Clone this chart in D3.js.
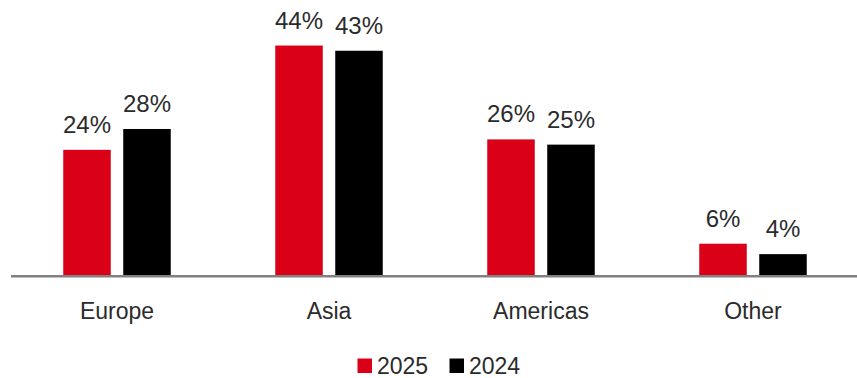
<!DOCTYPE html>
<html>
<head>
<meta charset="utf-8">
<script src="https://cdn.jsdelivr.net/npm/d3@7"></script>
<style>
  html, body { margin: 0; padding: 0; background: #fff; }
  svg { display: block; }
  text { font-family: "Liberation Sans", Arial, sans-serif; fill: #2b2b2b; }
</style>
</head>
<body>
<svg id="chart" width="857" height="378"></svg>
<script>
// Regional share of revenue, by year (%)
const categories = ["Europe", "Asia", "Americas", "Other"];
const seriesNames = ["2025", "2024"];
const values2025 = [24, 44, 26, 6];
const values2024 = [28, 43, 25, 4];
const seriesColors = ["#DA0017", "#000000"];

const data = categories.map((c, i) => ({
  category: c,
  values: [
    { key: seriesNames[0], value: values2025[i] },
    { key: seriesNames[1], value: values2024[i] }
  ]
}));

const svg = d3.select("#chart");
const baseY = 275;

const x0 = d3.scaleBand()
  .domain(categories)
  .range([11, 859])
  .paddingInner(0)
  .paddingOuter(0);

const x1 = d3.scaleBand()
  .domain(seriesNames)
  .range([0, x0.bandwidth()])
  .paddingInner(0.208)
  .paddingOuter(0.871);

const y = d3.scaleLinear()
  .domain([0, 50])
  .range([baseY, baseY - 5.215 * 50]);

const color = d3.scaleOrdinal().domain(seriesNames).range(seriesColors);

const groups = svg.append("g")
  .selectAll("g")
  .data(data)
  .join("g")
  .attr("transform", d => `translate(${x0(d.category)},0)`);

groups.selectAll("rect")
  .data(d => d.values)
  .join("rect")
  .attr("x", d => x1(d.key))
  .attr("y", d => y(d.value))
  .attr("width", x1.bandwidth())
  .attr("height", d => y(0) - y(d.value))
  .attr("fill", d => color(d.key));

groups.selectAll("text.value")
  .data(d => d.values)
  .join("text")
  .attr("class", "value")
  .attr("x", d => x1(d.key) + x1.bandwidth() / 2)
  .attr("y", d => y(d.value) - 17)
  .attr("text-anchor", "middle")
  .style("font-size", "24px")
  .text(d => d.value + "%");

// baseline axis
svg.append("line")
  .attr("x1", 11).attr("x2", 857)
  .attr("y1", baseY + 1.3).attr("y2", baseY + 1.3)
  .attr("stroke", "#808080")
  .attr("stroke-width", 2.6);

// category labels
const xAxis = d3.axisBottom(x0).tickSize(0).tickPadding(0);
const axisG = svg.append("g")
  .attr("transform", `translate(0,${baseY})`)
  .call(xAxis);
axisG.select(".domain").remove();
axisG.selectAll("text")
  .attr("y", 44)
  .attr("dy", null)
  .style("font-size", "23px")
  .style("font-family", "'Liberation Sans', Arial, sans-serif")
  .attr("fill", "#2b2b2b");

// legend
const legendItems = [
  { key: "2025", x: 357.5 },
  { key: "2024", x: 449.5 }
];
const legend = svg.append("g");
legend.selectAll("rect")
  .data(legendItems)
  .join("rect")
  .attr("x", d => d.x)
  .attr("y", 358.5)
  .attr("width", 14.5)
  .attr("height", 14.5)
  .attr("fill", d => color(d.key));
legend.selectAll("text")
  .data(legendItems)
  .join("text")
  .attr("x", d => d.x + 19.5)
  .attr("y", 374.3)
  .style("font-size", "23px")
  .text(d => d.key);
</script>
</body>
</html>
